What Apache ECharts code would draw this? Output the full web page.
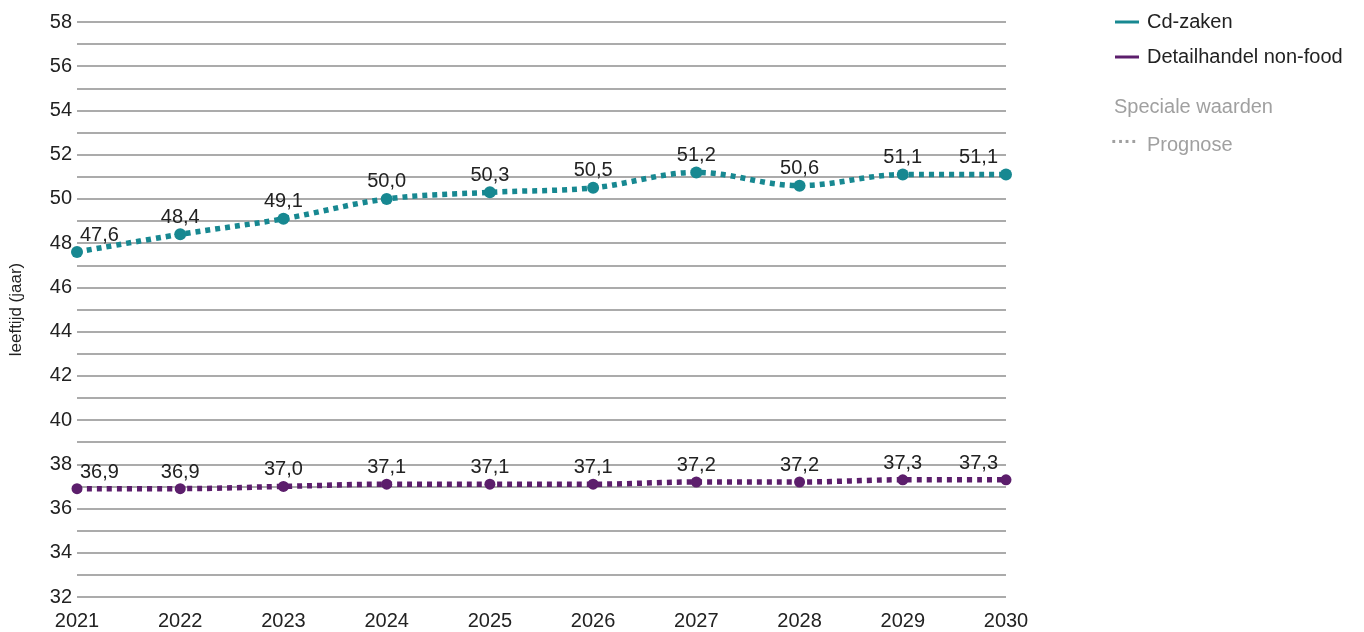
<!DOCTYPE html>
<html>
<head>
<meta charset="utf-8">
<script src="https://cdn.jsdelivr.net/npm/echarts@6/dist/echarts.min.js"></script>
<style>
  html, body { margin: 0; padding: 0; background: #fff; }
  #chart { width: 1364px; height: 632px; }
</style>
</head>
<body>
<div id="chart"></div>
<script>
// Gemiddelde leeftijd per jaar (prognose)
const years = ['2021', '2022', '2023', '2024', '2025', '2026', '2027', '2028', '2029', '2030'];
const cdZaken = [47.6, 48.4, 49.1, 50.0, 50.3, 50.5, 51.2, 50.6, 51.1, 51.1];
const detailhandel = [36.9, 36.9, 37.0, 37.1, 37.1, 37.1, 37.2, 37.2, 37.3, 37.3];
const seriesNames = ['Cd-zaken', 'Detailhandel non-food'];
const seriesColors = ['#178891', '#5c1e6c'];

const FONT = '"Liberation Sans", Arial, sans-serif';
const TEXT = '#222';

function fmt(v) {
  return v.toFixed(1).replace('.', ',');
}

// Labels at the ends are nudged inward so they stay within the plot
function labelled(values) {
  return values.map((v, i) => {
    const item = { value: v };
    if (i === 0) item.label = { align: 'left', offset: [3, 0] };
    if (i === values.length - 1) item.label = { align: 'right', offset: [-8, 0] };
    return item;
  });
}

function makeSeries(name, values, color, size) {
  return {
    name: name,
    type: 'line',
    data: labelled(values),
    smooth: 0.35,
    symbol: 'circle',
    symbolSize: size,
    showAllSymbol: true,
    itemStyle: { color: color },
    lineStyle: { color: color, width: 5.5, type: [5, 5], cap: 'butt' },
    label: {
      show: true,
      position: 'top',
      distance: 1,
      color: TEXT,
      fontSize: 20,
      fontFamily: FONT,
      formatter: p => fmt(p.value)
    },
    emphasis: { disabled: true },
    animation: false
  };
}

const chart = echarts.init(document.getElementById('chart'), null, { renderer: 'canvas' });
chart.setOption({
  animation: false,
  grid: { left: 77, right: 358, top: 22, bottom: 35, containLabel: false, outerBoundsMode: 'none' },
  legend: {
    orient: 'vertical',
    left: 1110,
    top: 7,
    itemGap: 15,
    itemWidth: 24,
    itemHeight: 3,
    icon: 'rect',
    textStyle: { fontSize: 20, color: TEXT, fontFamily: FONT, padding: [0, 0, 0, 3] },
    data: seriesNames.map((n, i) => ({ name: n, itemStyle: { color: seriesColors[i] } }))
  },
  graphic: [
    {
      type: 'text', left: 1114, top: 97,
      style: { text: 'Speciale waarden', fontSize: 20, fontFamily: FONT, fill: '#a0a0a0' }
    },
    {
      type: 'text', left: 1111, top: 132,
      style: { text: '····', fontSize: 20, fontFamily: FONT, fill: '#a0a0a0', fontWeight: 'bold' }
    },
    {
      type: 'text', left: 1147, top: 135,
      style: { text: 'Prognose', fontSize: 20, fontFamily: FONT, fill: '#a0a0a0' }
    }
  ],
  xAxis: {
    type: 'category',
    data: years,
    boundaryGap: false,
    axisLine: { show: false },
    axisTick: { show: false },
    axisLabel: { color: TEXT, fontSize: 20, fontFamily: FONT, margin: 14, interval: 0 },
    splitLine: { show: false }
  },
  yAxis: {
    type: 'value',
    min: 32,
    max: 58,
    interval: 1,
    name: 'leeftijd (jaar)',
    nameLocation: 'middle',
    nameGap: 52,
    nameTextStyle: { color: TEXT, fontSize: 17, fontFamily: FONT },
    axisLine: { show: false },
    axisTick: { show: false },
    axisLabel: {
      color: TEXT, fontSize: 20, fontFamily: FONT, margin: 5,
      formatter: v => (v % 2 === 0 ? String(v) : '')
    },
    splitLine: { show: true, lineStyle: { color: '#8f8f8f', width: 1.5 } }
  },
  series: [
    makeSeries(seriesNames[0], cdZaken, seriesColors[0], 12),
    makeSeries(seriesNames[1], detailhandel, seriesColors[1], 11)
  ]
});
</script>
</body>
</html>
